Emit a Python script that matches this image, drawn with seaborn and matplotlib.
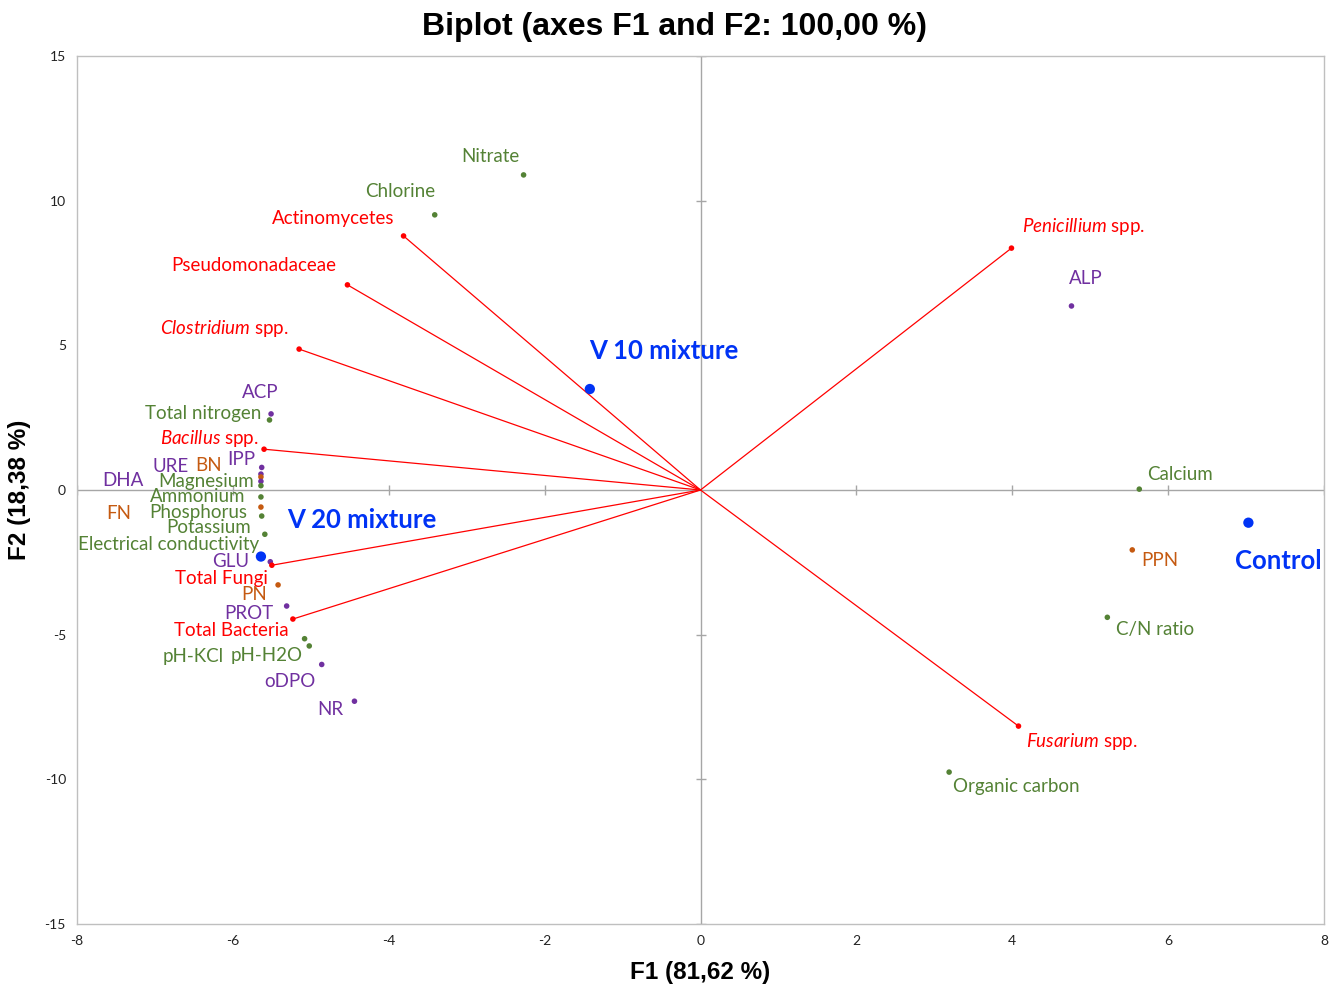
import numpy as np
import pandas as pd
import matplotlib
matplotlib.use("Agg")
import matplotlib.pyplot as plt
import seaborn as sns

# variables / observations of the biplot (F1, F2 coordinates)
names = [
    "Nitrate", "Chlorine", "Actinomycetes", "Pseudomonadaceae", "Clostridium spp.",
    "ACP", "Total nitrogen", "Bacillus spp.", "IPP", "URE", "BN", "DHA", "Magnesium",
    "Ammonium", "FN", "Phosphorus", "Potassium", "Electrical conductivity", "GLU",
    "Total Fungi", "PN", "PROT", "Total Bacteria", "pH-KCl", "pH-H2O", "oDPO", "NR",
    "Penicillium spp.", "ALP", "Calcium", "PPN", "C/N ratio", "Fusarium spp.",
    "Organic carbon", "V 10 mixture", "V 20 mixture", "Control",
]
f1 = [
    -2.27, -3.41, -3.81, -4.53, -5.15,
    -5.51, -5.53, -5.60, -5.63, -5.64, -5.64, -5.64, -5.64,
    -5.64, -5.64, -5.63, -5.59, -5.64, -5.52,
    -5.50, -5.42, -5.31, -5.23, -5.08, -5.02, -4.86, -4.44,
    3.99, 4.76, 5.63, 5.54, 5.22, 4.08,
    3.19, -1.42, -5.64, 7.03,
]
f2 = [
    10.89, 9.51, 8.78, 7.09, 4.87,
    2.63, 2.42, 1.41, 0.78, 0.55, 0.45, 0.30, 0.15,
    -0.24, -0.59, -0.90, -1.53, -2.25, -2.48,
    -2.60, -3.28, -4.01, -4.46, -5.14, -5.39, -6.03, -7.30,
    8.36, 6.36, 0.03, -2.07, -4.40, -8.16,
    -9.75, 3.49, -2.30, -1.13,
]
groups = [
    "soil", "soil", "microbe", "microbe", "microbe",
    "enzyme", "soil", "microbe", "enzyme", "enzyme", "nitro", "enzyme", "soil",
    "soil", "nitro", "soil", "soil", "soil", "enzyme",
    "microbe", "nitro", "enzyme", "microbe", "soil", "soil", "enzyme", "enzyme",
    "microbe", "enzyme", "soil", "nitro", "soil", "microbe",
    "soil", "treatment", "treatment", "treatment",
]
italic_part = {
    "Clostridium spp.": "Clostridium", "Bacillus spp.": "Bacillus",
    "Penicillium spp.": "Penicillium", "Fusarium spp.": "Fusarium",
}

palette = {"soil": "#548235", "enzyme": "#7030A0", "nitro": "#C55A11",
           "microbe": "#FF0000", "treatment": "#0033F5"}

# label offsets from point (pixels, right / down)
label_offset = {
    "Nitrate": (-33, -18), "Chlorine": (-35, -23), "Actinomycetes": (-70, -17),
    "Pseudomonadaceae": (-94, -19), "Clostridium spp.": (-75, -21), "ACP": (-11, -21),
    "Total nitrogen": (-66, -6), "Bacillus spp.": (-55, -11), "IPP": (-20, -8),
    "URE": (-90, -8), "BN": (-52, -11), "DHA": (-138, -1), "Magnesium": (-55, -4),
    "Ammonium": (-63, 0), "FN": (-142, 6), "Phosphorus": (-63, -4),
    "Potassium": (-56, -7), "Electrical conductivity": (-92, -11), "GLU": (-40, 0),
    "Total Fungi": (-50, 13), "PN": (-24, 10), "PROT": (-38, 7),
    "Total Bacteria": (-62, 11), "pH-KCl": (-111, 18), "pH-H2O": (-43, 10),
    "oDPO": (-32, 17), "NR": (-24, 8), "Penicillium spp.": (72, -22),
    "ALP": (14, -27), "Calcium": (41, -15), "PPN": (28, 11), "C/N ratio": (48, 12),
    "Fusarium spp.": (63, 15), "Organic carbon": (67, 14),
    "V 10 mixture": (74, -38), "V 20 mixture": (101, -37), "Control": (30, 38),
}

df = pd.DataFrame({"name": names, "F1": f1, "F2": f2, "group": groups})

sns.set_style("white")
plt.rcParams["font.family"] = ["Lato", "DejaVu Sans"]
plt.rcParams["mathtext.fontset"] = "custom"
plt.rcParams["mathtext.it"] = "Lato:italic"
plt.rcParams["mathtext.rm"] = "Lato"
plt.rcParams["axes.unicode_minus"] = False

fig, ax = plt.subplots(figsize=(13.36, 9.88), dpi=100)
fig.subplots_adjust(left=77 / 1336, right=1324 / 1336, top=1 - 56 / 988, bottom=1 - 924 / 988)

ax.axhline(0, color="#A6A6A6", lw=1, zorder=1)
ax.axvline(0, color="#A6A6A6", lw=1, zorder=1)

xt = np.arange(-8, 9, 2)
yt = np.arange(-15, 16, 5)
ax.plot(xt[xt != 0], np.zeros(len(xt) - 1), ls="none", marker="|", ms=7, mew=1, color="#A6A6A6", zorder=1)
ax.plot(np.zeros(len(yt) - 1), yt[yt != 0], ls="none", marker="_", ms=7, mew=1, color="#A6A6A6", zorder=1)

# vectors of microbial variables
mic = df[df.group == "microbe"]
for _, r in mic.iterrows():
    ax.plot([0, r.F1], [0, r.F2], color="#FF0000", lw=0.9, zorder=2)

small = df[df.group != "treatment"]
sns.scatterplot(data=small, x="F1", y="F2", hue="group", palette=palette, s=16,
                linewidth=0, legend=False, ax=ax, zorder=3)
big = df[df.group == "treatment"]
sns.scatterplot(data=big, x="F1", y="F2", hue="group", palette=palette, s=55,
                linewidth=0, legend=False, ax=ax, zorder=3)

for _, r in df.iterrows():
    dx, dy = label_offset[r["name"]]
    txt = r["name"]
    if txt in italic_part:
        txt = "$\\it{" + italic_part[txt] + "}$" + txt[len(italic_part[txt]):]
    bold = r.group == "treatment"
    ax.annotate(txt, (r.F1, r.F2), xytext=(dx, -dy), textcoords="offset pixels",
                ha="center", va="center", color=palette[r.group],
                fontsize=18.5 if bold else 13.5, fontweight="bold" if bold else "normal",
                zorder=4)

ax.set_xlim(-8, 8)
ax.set_ylim(-15, 15)
ax.set_xticks(xt)
ax.set_yticks(yt)
ax.tick_params(labelsize=10, length=0, pad=8, labelcolor="#222222")
for s in ax.spines.values():
    s.set_color("#BFBFBF")
    s.set_linewidth(1)

head = ["Liberation Sans", "DejaVu Sans"]
ax.set_xlabel("F1 (81,62 %)", fontsize=17.5, fontweight="bold", labelpad=10, family=head, color="black")
ax.set_ylabel("F2 (18,38 %)", fontsize=17.5, fontweight="bold", labelpad=10, family=head, color="black")
fig.suptitle("Biplot (axes F1 and F2: 100,00 %)", fontsize=23, fontweight="bold",
             x=0.505, y=1 - 12 / 988, va="top", family=head, color="black")

fig.savefig("out.png", dpi=100)
